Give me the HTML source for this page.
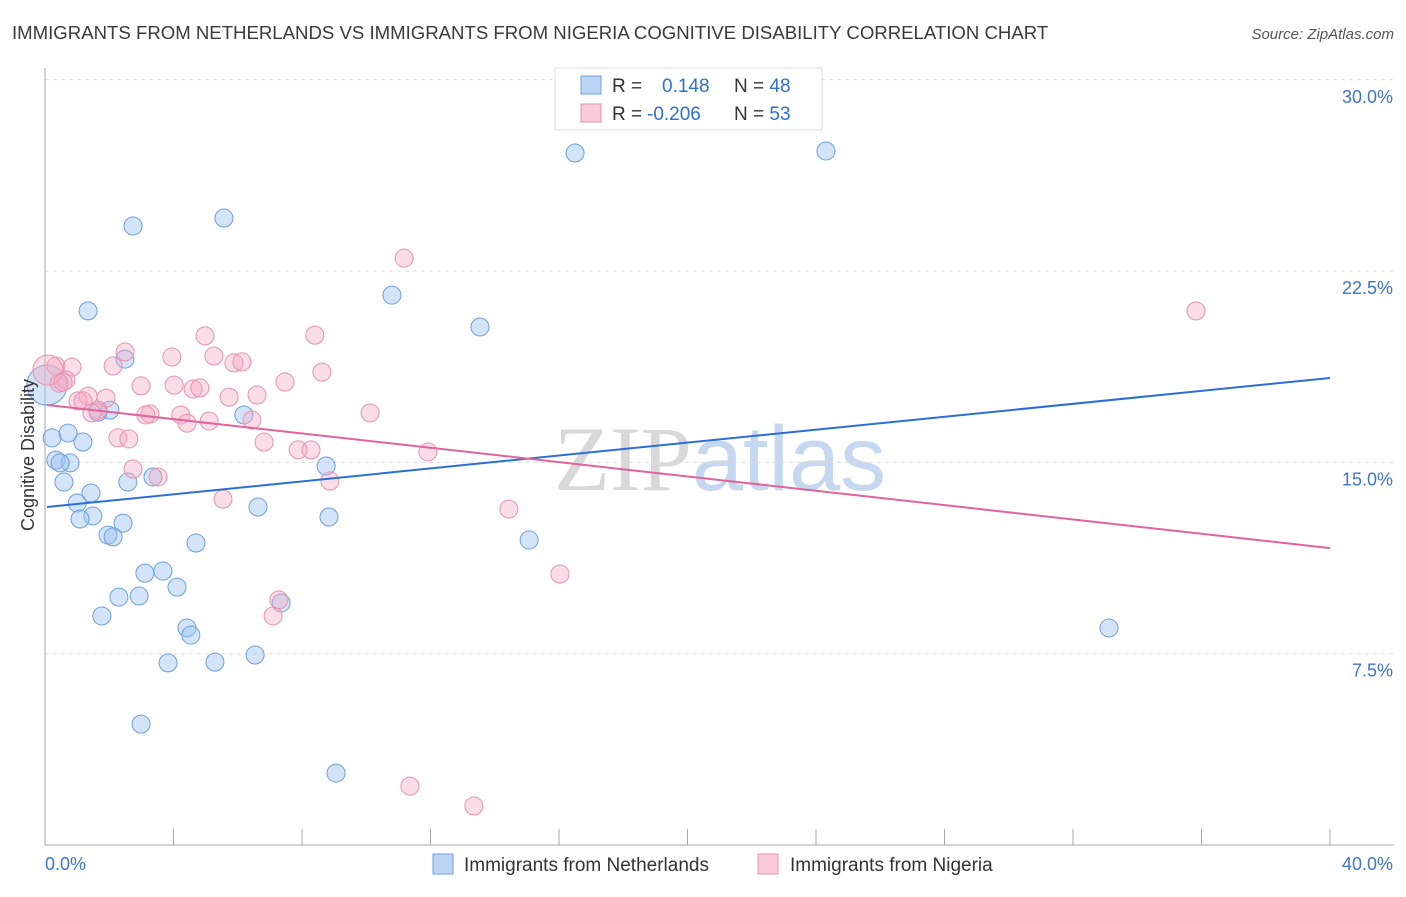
<!DOCTYPE html>
<html><head><meta charset="utf-8"><style>
body{margin:0;background:#fff;font-family:"Liberation Sans",sans-serif;}
</style></head><body>
<svg id="chart" width="1406" height="892" xmlns="http://www.w3.org/2000/svg" font-family="Liberation Sans, sans-serif">
<text x="12" y="39" font-size="18.6" fill="#3a3a3a">IMMIGRANTS FROM NETHERLANDS VS IMMIGRANTS FROM NIGERIA COGNITIVE DISABILITY CORRELATION CHART</text>
<text x="1394" y="39" font-size="15" fill="#555" font-style="italic" text-anchor="end">Source: ZipAtlas.com</text>
<text x="720" y="490" font-size="92" text-anchor="middle"><tspan fill="#d8d8d8" font-family="Liberation Serif, serif">ZIP</tspan><tspan fill="#c5d8f0">atlas</tspan></text>
<g id="grid"></g>
<g id="axes"></g>
<g id="pts"></g>
<g id="lines"></g>
<text transform="translate(34,455) rotate(-90)" font-size="18" fill="#333" text-anchor="middle">Cognitive Disability</text>
<g>
<rect x="555" y="68" width="267" height="62" fill="#fff" stroke="#ddd"/>
<rect x="581" y="76" width="20" height="18" fill="#bcd4f4" stroke="#6a9fe0"/>
<rect x="581" y="104" width="20" height="18" fill="#fbcadb" stroke="#e890b0"/>
<text x="612" y="92" font-size="19" fill="#333">R = <tspan fill="#2f6fd0" x="662">0.148</tspan><tspan x="734" fill="#333">N = </tspan><tspan fill="#2f6fd0">48</tspan></text>
<text x="612" y="120" font-size="19" fill="#333">R = <tspan fill="#2f6fd0" x="647">-0.206</tspan><tspan x="734" fill="#333">N = </tspan><tspan fill="#2f6fd0">53</tspan></text>
</g>
<g>
<rect x="433" y="854" width="20" height="20" fill="#bcd4f4" stroke="#6a9fe0"/>
<text x="464" y="871" font-size="19" fill="#333">Immigrants from Netherlands</text>
<rect x="758" y="854" width="20" height="20" fill="#fbcadb" stroke="#e890b0"/>
<text x="790" y="871" font-size="19" fill="#333">Immigrants from Nigeria</text>
</g>
</svg>
<script>
const blueX=[5.57,2.74,16.50,24.31,1.34,10.80,13.54,2.49,2.02,1.65,6.19,0.22,0.72,1.18,0.34,0.78,0.47,0.59,1.43,1.00,2.58,3.36,8.75,6.63,1.49,1.09,2.43,1.96,2.12,4.70,8.84,15.07,3.11,3.67,4.11,2.30,2.93,1.77,4.42,4.54,7.35,33.12,3.83,5.29,6.54,2.99,9.06,0.06];
const blueY=[24.58,24.27,27.13,27.21,20.94,21.56,20.31,19.05,17.05,16.97,16.86,15.96,16.15,15.80,15.09,14.98,14.98,14.23,13.80,13.41,14.23,14.43,14.86,13.25,12.90,12.78,12.62,12.15,12.08,11.84,12.86,11.96,10.66,10.74,10.11,9.72,9.76,8.98,8.51,8.23,9.49,8.51,7.14,7.17,7.45,4.74,2.82,18.03];
const pinkX=[11.18,35.83,4.98,8.40,2.49,3.95,5.26,5.88,6.13,0.34,0.84,2.12,8.62,0.65,0.44,7.47,2.99,4.02,4.61,4.82,5.73,6.60,1.34,1.03,1.90,1.18,3.27,3.14,1.65,1.46,4.23,10.12,5.11,6.44,4.42,2.27,2.61,6.82,7.88,8.28,11.92,2.74,3.52,8.87,5.54,14.44,7.28,7.10,16.03,11.36,13.35,0.09,0.56];
const pinkY=[23.01,20.94,19.96,19.99,19.33,19.13,19.17,18.90,18.94,18.78,18.74,18.78,18.54,18.23,18.11,18.15,18.00,18.03,17.88,17.92,17.56,17.64,17.60,17.41,17.52,17.41,16.90,16.86,17.05,16.94,16.86,16.94,16.62,16.66,16.54,15.96,15.92,15.80,15.49,15.49,15.41,14.74,14.43,14.27,13.56,13.17,9.61,8.98,10.62,2.31,1.53,18.62,18.15];
const blueTrend=[13.25,18.31];
const pinkTrend=[17.25,11.64];
const yTicks=[7.5,15.0,22.5,30.0];
const xTicks=[0,4,8,12,16,20,24,28,32,36,40];
const NS="http://www.w3.org/2000/svg";
const sx=v=>45+v/40*1285;
const sy=v=>845-v/7.5*191.3;
function mk(parent,tag,attrs){const e=document.createElementNS(NS,tag);for(const k in attrs)e.setAttribute(k,attrs[k]);document.getElementById(parent).appendChild(e);return e;}
yTicks.forEach(t=>{
 const l=mk('grid','line',{x1:45,x2:1394,y1:sy(t),y2:sy(t),stroke:'#ddd','stroke-dasharray':'4,4'});
 
 
 const tx=mk('grid','text',{x:1393,y:sy(t)+23,'font-size':18,fill:'#3d75d0','text-anchor':'end'});
 tx.textContent=t.toFixed(1)+'%';
 
 
});
const ya=mk('axes','line',{x1:45,x2:45,y1:68,y2:845,stroke:'#aaa'});


const xa=mk('axes','line',{x1:45,x2:1394,y1:845,y2:845,stroke:'#aaa'});


xTicks.forEach(t=>{
 const l=mk('axes','line',{x1:sx(t),x2:sx(t),y1:829,y2:845,stroke:'#aaa'});
 
 
});
[[0,'start','0.0%',45],[40,'end','40.0%',1393]].forEach(a=>{
 const tx=mk('axes','text',{x:a[3],y:870,'font-size':18,fill:'#3d75d0','text-anchor':a[1]});
 tx.textContent=a[2];
 
 
});
function pts(X,Y,fill,stroke,name){
 X.forEach((x,i)=>{
  const r=(i===X.length-1&&name==='blue-point')?20:(i===X.length-2&&name==='pink-point'?15:9);
  const c=mk('pts','circle',{cx:sx(x),cy:sy(Y[i]),r:r,fill:fill,stroke:stroke,'stroke-width':1});
  
  
 });
}
pts(blueX,blueY,'rgba(160,196,240,0.45)','#6a9fe0','blue-point');
pts(pinkX,pinkY,'rgba(245,170,195,0.4)','#e890b0','pink-point');
const bl=mk('lines','line',{x1:sx(0.06),y1:sy(blueTrend[0]),x2:sx(40),y2:sy(blueTrend[1]),stroke:'#2b6fd6','stroke-width':2});


const pl=mk('lines','line',{x1:sx(0.06),y1:sy(pinkTrend[0]),x2:sx(40),y2:sy(pinkTrend[1]),stroke:'#e0639a','stroke-width':2});


</script>
</body></html>
